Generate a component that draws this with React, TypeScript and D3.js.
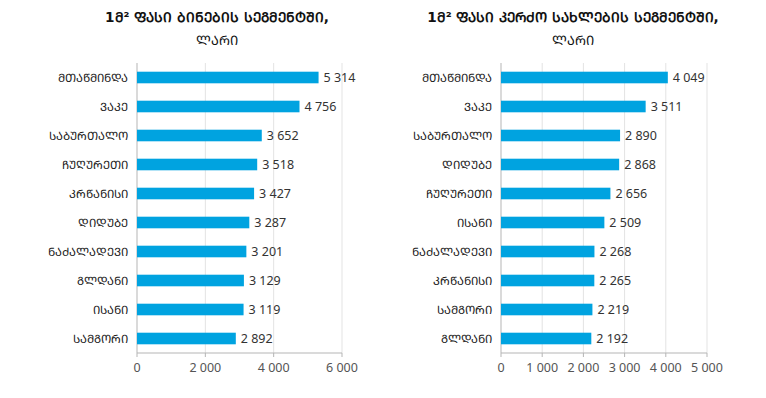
import React from "react";
import * as d3 from "d3";

// apartments segment
const flatDistricts = ["მთაწმინდა", "ვაკე", "საბურთალო", "ჩუღურეთი", "კრწანისი", "დიდუბე", "ნაძალადევი", "გლდანი", "ისანი", "სამგორი"];
const flatPrices = [5314, 4756, 3652, 3518, 3427, 3287, 3201, 3129, 3119, 2892];
const flatTicks = [0, 2000, 4000, 6000];

// private houses segment
const houseDistricts = ["მთაწმინდა", "ვაკე", "საბურთალო", "დიდუბე", "ჩუღურეთი", "ისანი", "ნაძალადევი", "კრწანისი", "სამგორი", "გლდანი"];
const housePrices = [4049, 3511, 2890, 2868, 2656, 2509, 2268, 2265, 2219, 2192];
const houseTicks = [0, 1000, 2000, 3000, 4000, 5000];

const fmt = (v: number) => d3.format(",")(v).replace(/,/g, " ");
const FONT = "'Noto Sans', 'DejaVu Sans', sans-serif";
const GEO = "'DejaVu Sans', sans-serif";

// the original uses capital (mtavruli) georgian letters
const caps = (s: string) => s.replace(/[\u10D0-\u10FA]/g, ch => String.fromCharCode(ch.charCodeAt(0) - 0x10D0 + 0x1C90));

type PanelProps = {
    title: string;
    titleX: number;
    cats: string[];
    values: number[];
    ticks: number[];
    x0: number;
    x1: number;
};

const Panel: React.FC<PanelProps> = ({ title, titleX, cats, values, ticks, x0, x1 }) => {
    const top = 63, bottom = 353;
    const x = d3.scaleLinear().domain([0, ticks[ticks.length - 1]]).range([x0, x1]);
    const y = d3.scaleBand().domain(cats).range([top, bottom]).paddingInner(0.6).paddingOuter(0.3);

    return (
        <g>
            <text x={titleX} y={22} textAnchor="middle" fontFamily={GEO} fontWeight="bold" fontSize={13.6} fill="#111">{caps(title)}</text>
            <text x={titleX} y={45} textAnchor="middle" fontFamily={GEO} fontSize={13} fill="#111">{caps("ლარი")}</text>

            {ticks.slice(1).map(t => (
                <line key={t} x1={x(t)} x2={x(t)} y1={top} y2={bottom} stroke="#e3e3e3" strokeWidth={1} />
            ))}
            <line x1={x0} x2={x0} y1={top} y2={bottom} stroke="#b5b5b5" />
            <line x1={x0} x2={x1} y1={bottom} y2={bottom} stroke="#b5b5b5" />
            {ticks.map(t => (
                <g key={t}>
                    <line x1={x(t)} x2={x(t)} y1={bottom} y2={bottom + 4} stroke="#b5b5b5" />
                    <text x={x(t)} y={372} textAnchor="middle" fontFamily={FONT} fontSize={12.5} fill="#555">{fmt(t)}</text>
                </g>
            ))}

            {cats.map((c, i) => {
                const yy = y(c) ?? 0;
                const cy = yy + y.bandwidth() / 2;
                return (
                    <g key={c}>
                        <rect x={x(0)} y={yy} width={x(values[i]) - x(0)} height={y.bandwidth()} fill="#00a3e0" />
                        <text x={x0 - 9} y={cy} dy="0.35em" textAnchor="end" fontFamily={GEO} fontSize={11.5} fill="#1a1a1a">{caps(c)}</text>
                        <text x={x(values[i]) + 5} y={cy} dy="0.35em" fontFamily={FONT} fontSize={12.5} fill="#333">{fmt(values[i])}</text>
                    </g>
                );
            })}
        </g>
    );
};

const App: React.FC = () => {
    return (
        <svg width={766} height={398} style={{ position: "absolute", left: 0, top: 0, background: "#fff" }}>
            <Panel title="1მ² ფასი ბინების სეგმენტში," titleX={217} cats={flatDistricts} values={flatPrices} ticks={flatTicks} x0={137} x1={342} />
            <Panel title="1მ² ფასი კერძო სახლების სეგმენტში," titleX={573} cats={houseDistricts} values={housePrices} ticks={houseTicks} x0={501} x1={707} />
        </svg>
    );
};

export default App;
